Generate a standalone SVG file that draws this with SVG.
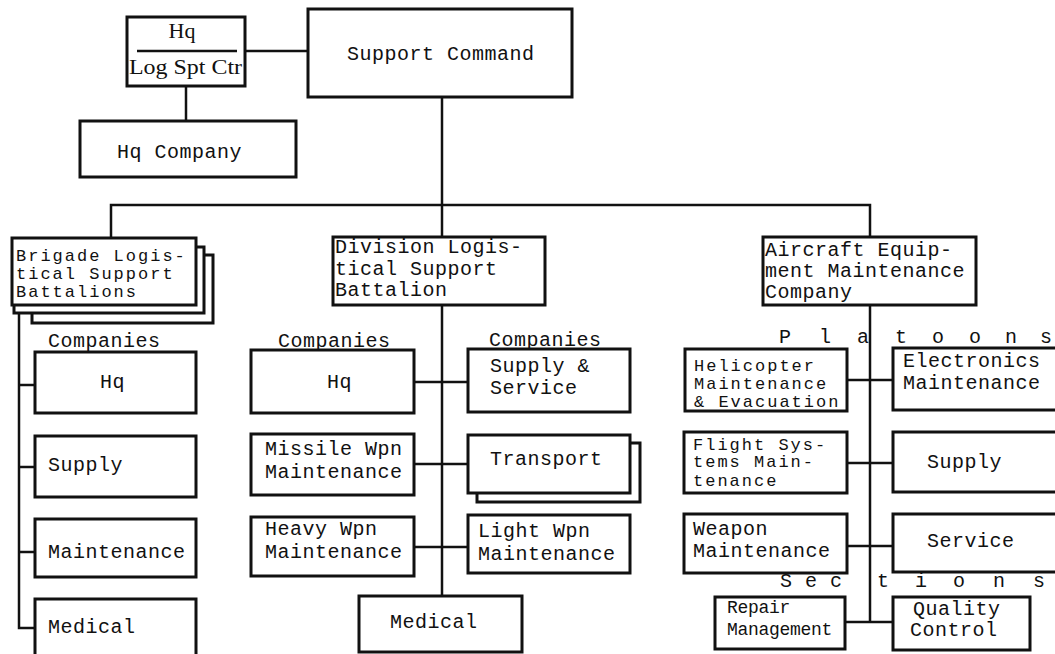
<svg xmlns="http://www.w3.org/2000/svg" width="1055" height="654" viewBox="0 0 1055 654">
<style>
.box{fill:#fff;stroke:#111;stroke-width:3}
.sh{fill:none;stroke:#111;stroke-width:3}
.ln{fill:none;stroke:#111;stroke-width:2.5}
.t{font-family:"Liberation Mono","DejaVu Sans Mono",monospace;font-size:20px;fill:#111;letter-spacing:0.5px}
.c{font-family:"Liberation Mono","DejaVu Sans Mono",monospace;font-size:17px;fill:#111;letter-spacing:2px}
.r{font-family:"Liberation Mono","DejaVu Sans Mono",monospace;font-size:18px;fill:#111;letter-spacing:-0.3px}
.s{font-family:"Liberation Serif","DejaVu Serif",serif;font-size:22px;fill:#111}
</style>
<rect width="1055" height="654" fill="#fff"/>
<g id="connectors">
<line class="ln" x1="245" y1="51" x2="308" y2="51"/>
<line class="ln" x1="186" y1="86" x2="186" y2="121"/>
<line class="ln" x1="442" y1="97" x2="442" y2="237"/>
<polyline class="ln" points="111,238 111,205 870,205 870,237"/>
<line class="ln" x1="442" y1="305" x2="442" y2="596"/>
<polyline class="ln" points="19,313 19,628 35,628"/>
<line class="ln" x1="19" y1="385" x2="35" y2="385"/>
<line class="ln" x1="19" y1="467" x2="35" y2="467"/>
<line class="ln" x1="19" y1="552" x2="35" y2="552"/>
<line class="ln" x1="414" y1="382" x2="468" y2="382"/>
<line class="ln" x1="414" y1="464" x2="468" y2="464"/>
<line class="ln" x1="414" y1="547" x2="468" y2="547"/>
<line class="ln" x1="870" y1="305" x2="870" y2="622"/>
<line class="ln" x1="847" y1="380" x2="893" y2="380"/>
<line class="ln" x1="847" y1="463" x2="893" y2="463"/>
<line class="ln" x1="847" y1="546" x2="893" y2="546"/>
<line class="ln" x1="845" y1="622" x2="893" y2="622"/>
</g>
<g id="hq-log-spt-ctr">
<rect class="box" x="127" y="17" width="118" height="69"/>
<line class="ln" x1="137" y1="51" x2="237" y2="51"/>
<text class="s" x="182" y="38" text-anchor="middle">Hq</text>
<text class="s" x="129" y="74" textLength="113" lengthAdjust="spacingAndGlyphs">Log Spt Ctr</text>
</g>
<g id="support-command">
<rect class="box" x="308" y="9" width="264" height="88"/>
<text class="t" x="347" y="60">Support Command</text>
</g>
<g id="hq-company">
<rect class="box" x="80" y="121" width="216" height="56"/>
<text class="t" x="117" y="158">Hq Company</text>
</g>
<g id="brigade">
<polyline class="sh" points="204,255 213,255 213,323 32,323 32,313"/>
<polyline class="sh" points="196,247 204,247 204,313 14,313 14,305"/>
<rect class="box" x="12" y="238" width="184" height="67"/>
<text class="c" x="16" y="261">Brigade Logis-</text>
<text class="c" x="16" y="279">tical Support</text>
<text class="c" x="16" y="297">Battalions</text>
</g>
<g id="division">
<rect class="box" x="333" y="237" width="212" height="68"/>
<text class="t" x="335" y="253">Division Logis-</text>
<text class="t" x="335" y="275">tical Support</text>
<text class="t" x="335" y="296">Battalion</text>
</g>
<g id="aircraft">
<rect class="box" x="763" y="237" width="213" height="68"/>
<text class="t" x="765" y="256">Aircraft Equip-</text>
<text class="t" x="765" y="277">ment Maintenance</text>
<text class="t" x="765" y="298">Company</text>
</g>
<g id="labels">
<text class="t" x="48" y="347">Companies</text>
<text class="t" x="278" y="347">Companies</text>
<text class="t" x="489" y="346">Companies</text>
<text class="t" x="779 819 857 895 932 969 1005 1040" y="343">Platoons</text>
<text class="t" x="780 805 830 877 915 953 993 1033" y="587">Sections</text>
</g>
<g id="bde-hq">
<rect class="box" x="35" y="352" width="161" height="61"/>
<text class="t" x="100" y="388">Hq</text>
</g>
<g id="bde-supply">
<rect class="box" x="35" y="436" width="161" height="61"/>
<text class="t" x="48" y="471">Supply</text>
</g>
<g id="bde-maintenance">
<rect class="box" x="35" y="519" width="161" height="58"/>
<text class="t" x="48" y="558">Maintenance</text>
</g>
<g id="bde-medical">
<rect class="box" x="35" y="599" width="161" height="62"/>
<text class="t" x="48" y="633">Medical</text>
</g>
<g id="div-hq">
<rect class="box" x="251" y="350" width="163" height="63"/>
<text class="t" x="327" y="388">Hq</text>
</g>
<g id="div-missile">
<rect class="box" x="251" y="434" width="163" height="61"/>
<text class="t" x="265" y="455">Missile Wpn</text>
<text class="t" x="265" y="478">Maintenance</text>
</g>
<g id="div-heavy">
<rect class="box" x="251" y="517" width="163" height="59"/>
<text class="t" x="265" y="535">Heavy Wpn</text>
<text class="t" x="265" y="558">Maintenance</text>
</g>
<g id="div-supply-service">
<rect class="box" x="468" y="349" width="162" height="63"/>
<text class="t" x="490" y="372">Supply &amp;</text>
<text class="t" x="490" y="394">Service</text>
</g>
<g id="div-transport">
<polyline class="sh" points="630,443 640,443 640,502 477,502 477,493"/>
<rect class="box" x="468" y="435" width="162" height="58"/>
<text class="t" x="490" y="465">Transport</text>
</g>
<g id="div-light">
<rect class="box" x="468" y="515" width="162" height="58"/>
<text class="t" x="478" y="537">Light Wpn</text>
<text class="t" x="478" y="560">Maintenance</text>
</g>
<g id="div-medical">
<rect class="box" x="359" y="596" width="163" height="56"/>
<text class="t" x="390" y="628">Medical</text>
</g>
<g id="helicopter">
<rect class="box" x="685" y="349" width="162" height="62"/>
<text class="c" x="694" y="371">Helicopter</text>
<text class="c" x="694" y="389">Maintenance</text>
<text class="c" x="694" y="407">&amp; Evacuation</text>
</g>
<g id="electronics">
<rect class="box" x="893" y="348" width="170" height="62"/>
<text class="t" x="903" y="367">Electronics</text>
<text class="t" x="903" y="389">Maintenance</text>
</g>
<g id="flight">
<rect class="box" x="684" y="432" width="163" height="61"/>
<text class="c" x="693" y="450">Flight Sys-</text>
<text class="c" x="693" y="467">tems Main-</text>
<text class="c" x="693" y="486">tenance</text>
</g>
<g id="aem-supply">
<rect class="box" x="893" y="432" width="170" height="60"/>
<text class="t" x="927" y="468">Supply</text>
</g>
<g id="weapon">
<rect class="box" x="684" y="514" width="163" height="59"/>
<text class="t" x="693" y="535">Weapon</text>
<text class="t" x="693" y="557">Maintenance</text>
</g>
<g id="service">
<rect class="box" x="893" y="514" width="170" height="58"/>
<text class="t" x="927" y="547">Service</text>
</g>
<g id="repair">
<rect class="box" x="715" y="597" width="130" height="52"/>
<text class="r" x="727" y="613">Repair</text>
<text class="r" x="727" y="635">Management</text>
</g>
<g id="quality">
<rect class="box" x="893" y="597" width="137" height="53"/>
<text class="t" x="913" y="615">Quality</text>
<text class="t" x="910" y="636">Control</text>
</g>
</svg>
